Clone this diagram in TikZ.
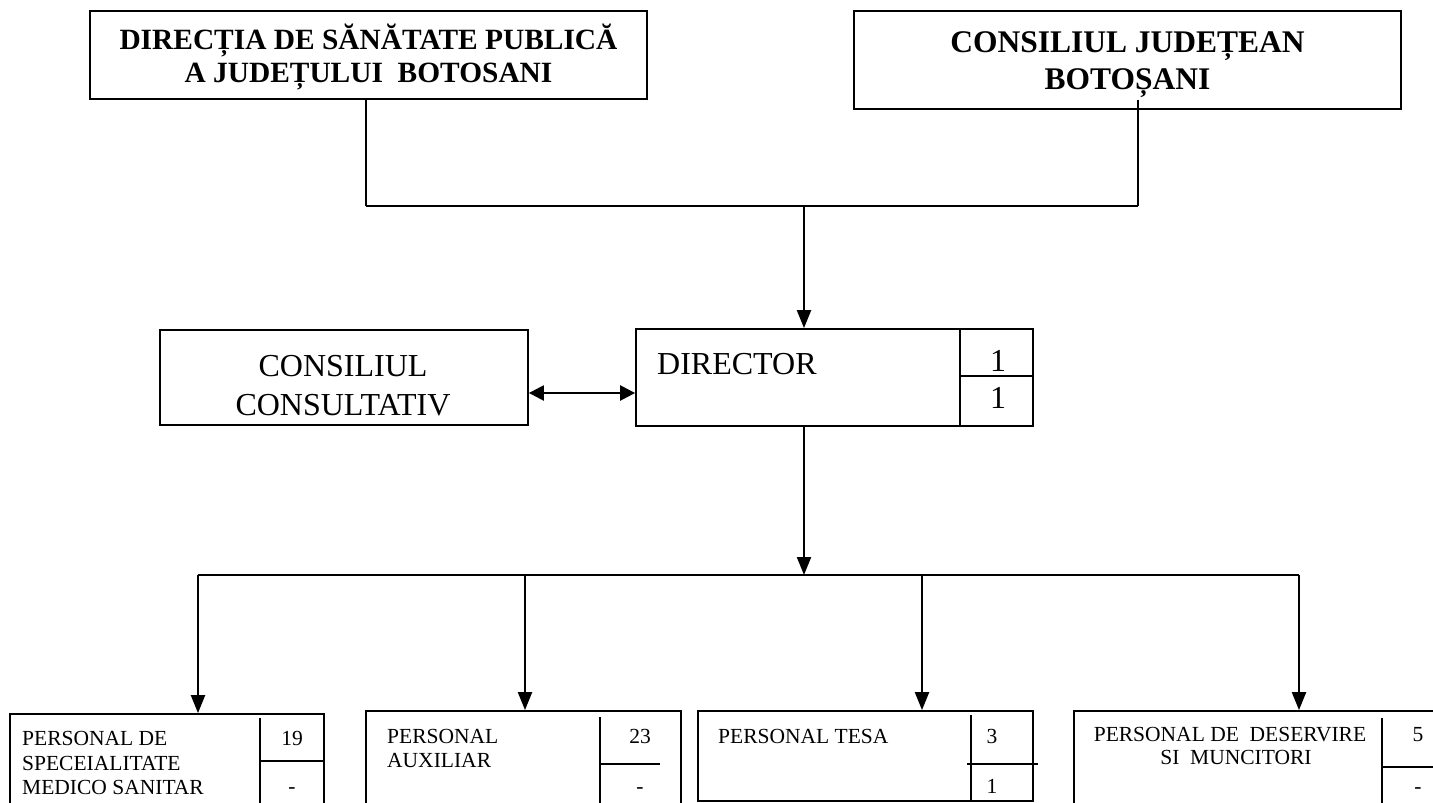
\documentclass[tikz,border=0pt]{standalone}
\usepackage{fontspec}
\setmainfont{Liberation Serif}
\usetikzlibrary{arrows.meta}
\begin{document}
\begin{tikzpicture}[x=1pt,y=-1pt,
  box/.style={draw, line width=1.8pt, rectangle, inner sep=0pt},
  divline/.style={line width=1.6pt},
  thinline/.style={line width=1.3pt},
  hline/.style={line width=1.8pt},
  arr/.style={line width=2.2pt, -{Triangle[length=18pt,width=14pt]}},
  dbl/.style={line width=2.4pt, {Triangle[length=15pt,width=15pt]}-{Triangle[length=15pt,width=15pt]}},
  ttl/.style={font=\fontsize{29.4pt}{33pt}\bfseries\selectfont, inner sep=0pt, align=center},
  ttlb/.style={font=\fontsize{31.5pt}{37pt}\bfseries\selectfont, inner sep=0pt, align=center},
  mid/.style={font=\fontsize{32pt}{37pt}\selectfont, inner sep=0pt},
  small/.style={font=\fontsize{21.5pt}{24pt}\selectfont, inner sep=0pt}
]
\clip (0,0) rectangle (1433,803);
\fill[white] (0,0) rectangle (1433,803);

% top boxes
\node[box, minimum width=557pt, minimum height=88pt] (dsp) at (368.5,55) {};
\node[ttl, anchor=base] (dspt1) at (368.5,49) {DIRECȚIA DE SĂNĂTATE PUBLICĂ};
\node[ttl, anchor=base] (dspt2) at (368.5,82) {A JUDEȚULUI\ \ BOTOSANI};

\node[box, minimum width=547pt, minimum height=98pt] (cj) at (1127.5,60) {};
\node[ttlb, anchor=base] (cjt1) at (1127.5,52) {CONSILIUL JUDEȚEAN};
\node[ttlb, anchor=base] (cjt2) at (1127.5,89) {BOTOȘANI};

% middle boxes
\node[box, minimum width=368pt, minimum height=95pt] (cons) at (344,377.5) {};
\node[mid, anchor=base] (const1) at (343,376) {CONSILIUL};
\node[mid, anchor=base] (const2) at (343,415) {CONSULTATIV};

\node[box, minimum width=397pt, minimum height=97pt] (dir) at (834.5,377.5) {};
\node[mid, anchor=base west] (dirt) at (657,374) {DIRECTOR};
\draw[divline] (960,329) -- (960,426);
\draw[divline] (960,376) -- (1033,376);
\node[mid, anchor=base] (dirn1) at (998,371) {1};
\node[mid, anchor=base] (dirn2) at (998,408) {1};

% bottom boxes
\node[box, minimum width=314pt, minimum height=101pt] (b1) at (167,764.5) {};
\draw[divline] (260,718) -- (260,815);
\draw[divline] (260,761) -- (324,761);
\node[small, anchor=base west] (b1t1) at (22,745) {PERSONAL DE};
\node[small, anchor=base west] (b1t2) at (22,770) {SPECEIALITATE};
\node[small, anchor=base west] (b1t3) at (22,794) {MEDICO SANITAR};
\node[small, anchor=base] (b1n1) at (292,745) {19};
\node[small, anchor=base] (b1n2) at (292,793) {-};

\node[box, minimum width=315pt, minimum height=104pt] (b2) at (523.5,763) {};
\draw[divline] (600,717) -- (600,815);
\draw[divline] (600,764) -- (660,764);
\node[small, anchor=base west] (b2t1) at (387,743) {PERSONAL};
\node[small, anchor=base west] (b2t2) at (387,767) {AUXILIAR};
\node[small, anchor=base] (b2n1) at (640,743) {23};
\node[small, anchor=base] (b2n2) at (640,793) {-};

\node[box, minimum width=335pt, minimum height=90pt] (b3) at (865.5,756) {};
\draw[divline] (971,715) -- (971,801);
\draw[divline] (967,764) -- (1038,764);
\node[small, anchor=base west] (b3t1) at (718,743) {PERSONAL TESA};
\node[small, anchor=base] (b3n1) at (992,743) {3};
\node[small, anchor=base] (b3n2) at (992,793) {1};

\node[box, minimum width=386pt, minimum height=104pt] (b4) at (1267,763) {};
\draw[divline] (1382,718) -- (1382,815);
\draw[divline] (1382,767) -- (1440,767);
\node[small, anchor=base] (b4t1) at (1230,741) {PERSONAL DE\ \ DESERVIRE};
\node[small, anchor=base] (b4t2) at (1236,764) {SI\ \ MUNCITORI};
\node[small, anchor=base] (b4n1) at (1418,741) {5};
\node[small, anchor=base] (b4n2) at (1418,793) {-};

% connectors
\coordinate (jL) at (366,206);
\coordinate (jR) at (1138,206);
\coordinate (jM) at (804,206);
\draw[thinline] (dsp.south -| jL) -- (jL);
\draw[thinline] ([yshift=10pt]cj.south -| jR) -- (jR);
\draw[hline] (jL) -- (jR);
\draw[arr] (jM) -- (dir.north -| jM);

\coordinate (ya) at (0,393);
\draw[dbl] (cons.east |- ya) -- (dir.west |- ya);

\coordinate (jB) at (804,575);
\draw[arr] (dir.south -| jB) -- (jB);
\coordinate (h1) at (198,575);
\coordinate (h2) at (525,575);
\coordinate (h3) at (922,575);
\coordinate (h4) at (1299,575);
\draw[hline] (h1) -- (h4);
\draw[arr] (h1) -- (b1.north -| h1);
\draw[arr] (h2) -- (b2.north -| h2);
\draw[arr] (h3) -- (b3.north -| h3);
\draw[arr] (h4) -- (b4.north -| h4);
\end{tikzpicture}
\end{document}
